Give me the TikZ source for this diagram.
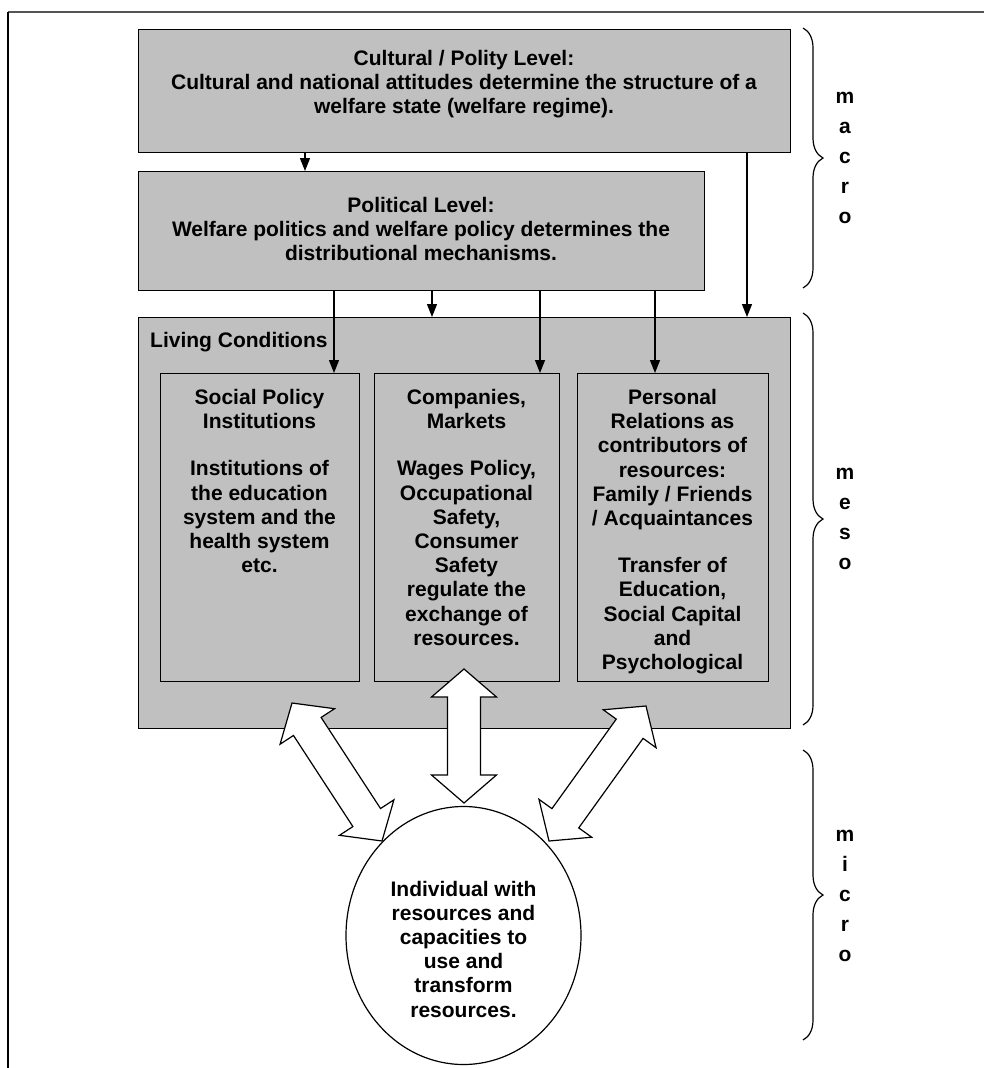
\documentclass[tikz,border=0pt]{standalone}
\usepackage{fontspec}
\setmainfont{Liberation Sans}
\usetikzlibrary{arrows.meta,calc,decorations.pathreplacing,shapes.geometric}
\definecolor{boxgray}{RGB}{192,192,192}
\definecolor{framegray}{RGB}{85,85,85}
\newcommand{\hollowarrow}[2]{%
  \path ($(#1)!28pt!(#2)$) coordinate (hA) ($(#2)!28pt!(#1)$) coordinate (hB);
  \draw[hollow] (#1) -- ($(hA)!32.5pt!90:(#2)$) -- ($(hA)!16.5pt!90:(#2)$)
    -- ($(hB)!16.5pt!-90:(#1)$) -- ($(hB)!32.5pt!-90:(#1)$) -- (#2)
    -- ($(hB)!32.5pt!90:(#1)$) -- ($(hB)!16.5pt!90:(#1)$)
    -- ($(hA)!16.5pt!-90:(#2)$) -- ($(hA)!32.5pt!-90:(#2)$) -- cycle;}
\begin{document}
\begin{tikzpicture}[x=1pt,y=-1pt,
  every node/.style={font=\bfseries\fontsize{21}{24.2}\selectfont, inner sep=0pt, align=center},
  box/.style={draw=black, fill=boxgray, line width=1.2pt, anchor=north west},
  thinarrow/.style={draw=black, line width=1.2pt, -{Triangle[length=13pt,width=10pt]}},
  brace/.style={decorate, decoration={brace, amplitude=20pt}, line width=1.2pt},
  hollow/.style={draw=black, fill=white, line width=1.2pt, line join=miter},
  letters/.style={font=\bfseries\fontsize{21}{30}\selectfont},
]
\useasboundingbox (0,0) rectangle (984,1068);
% frame
\draw[line width=2pt, framegray] (8,12) -- (984,12);
\draw[line width=2pt, black] (8,12) -- (8,1068);

% boxes
\node[box, minimum width=652, minimum height=123] (cult) at (138,29) {};
\node (culttext) at (464,84) {Cultural / Polity Level:\\Cultural and national attitudes determine the structure of a\\welfare state (welfare regime).};
\node[box, minimum width=566, minimum height=119] (pol) at (138,171) {};
\node (poltext) at (421,229) {Political Level:\\Welfare politics and welfare policy determines the\\distributional mechanisms.};
\node[box, minimum width=652, minimum height=411] (liv) at (138,317) {};
\node[anchor=west] (livlab) at (150,342) {Living Conditions};
\node[box, minimum width=199, minimum height=308] (soc) at (160,373) {};
\node[box, minimum width=185, minimum height=308] (comp) at (374,373) {};
\node[box, minimum width=191, minimum height=308] (pers) at (577,373) {};
\node[anchor=north] (soctext) at (259.5,389) {Social Policy\\Institutions\\[23pt]Institutions of\\the education\\system and the\\health system\\etc.};
\node[anchor=north] (comptext) at (466.5,389) {Companies,\\Markets\\[23pt]Wages Policy,\\Occupational\\Safety,\\Consumer\\Safety\\regulate the\\exchange of\\resources.};
\node[anchor=north] (perstext) at (672.5,389) {Personal\\Relations as\\contributors of\\resources:\\Family / Friends\\/ Acquaintances\\[23pt]Transfer of\\Education,\\Social Capital\\and\\Psychological};

% thin arrows
\coordinate (xa) at (305,0);
\coordinate (xb) at (747,0);
\coordinate (xc) at (334,0);
\coordinate (xd) at (432,0);
\coordinate (xe) at (540,0);
\coordinate (xf) at (655,0);
\draw[thinarrow] (xa |- cult.south) -- (xa |- pol.north);
\draw[thinarrow] (xb |- cult.south) -- (xb |- liv.north);
\draw[thinarrow] (xc |- pol.south) -- (xc |- soc.north);
\draw[thinarrow] (xd |- pol.south) -- (xd |- liv.north);
\draw[thinarrow] (xe |- pol.south) -- (xe |- comp.north);
\draw[thinarrow] (xf |- pol.south) -- (xf |- pers.north);

% individual
\node[draw=black, fill=white, ellipse, line width=1.2pt, minimum width=235, minimum height=258] (ind) at (463.5,935.5) {};
\node (indtext) at (463.5,949) {Individual with\\resources and\\capacities to\\use and\\transform\\resources.};

% hollow double arrows
\coordinate (va) at (464,669);
\coordinate (vb) at (464,803);
\coordinate (la) at (292,703);
\coordinate (lb) at (382,841);
\coordinate (ra) at (646,706);
\coordinate (rb) at (549,841);
\hollowarrow{va}{vb}
\hollowarrow{la}{lb}
\hollowarrow{ra}{rb}

% braces
\coordinate (macT) at (803,28);
\coordinate (macB) at (803,288);
\coordinate (mesT) at (803,313);
\coordinate (mesB) at (803,725);
\coordinate (micT) at (803,750);
\coordinate (micB) at (803,1040);
\draw[brace] (macT) -- (macB);
\draw[brace] (mesT) -- (mesB);
\draw[brace] (micT) -- (micB);
\node[letters] (macro) at (845,158) {m\\a\\c\\r\\o};
\node[letters] (meso) at (845,519) {m\\e\\s\\o};
\node[letters] (micro) at (845,896) {m\\i\\c\\r\\o};
\end{tikzpicture}
\end{document}
